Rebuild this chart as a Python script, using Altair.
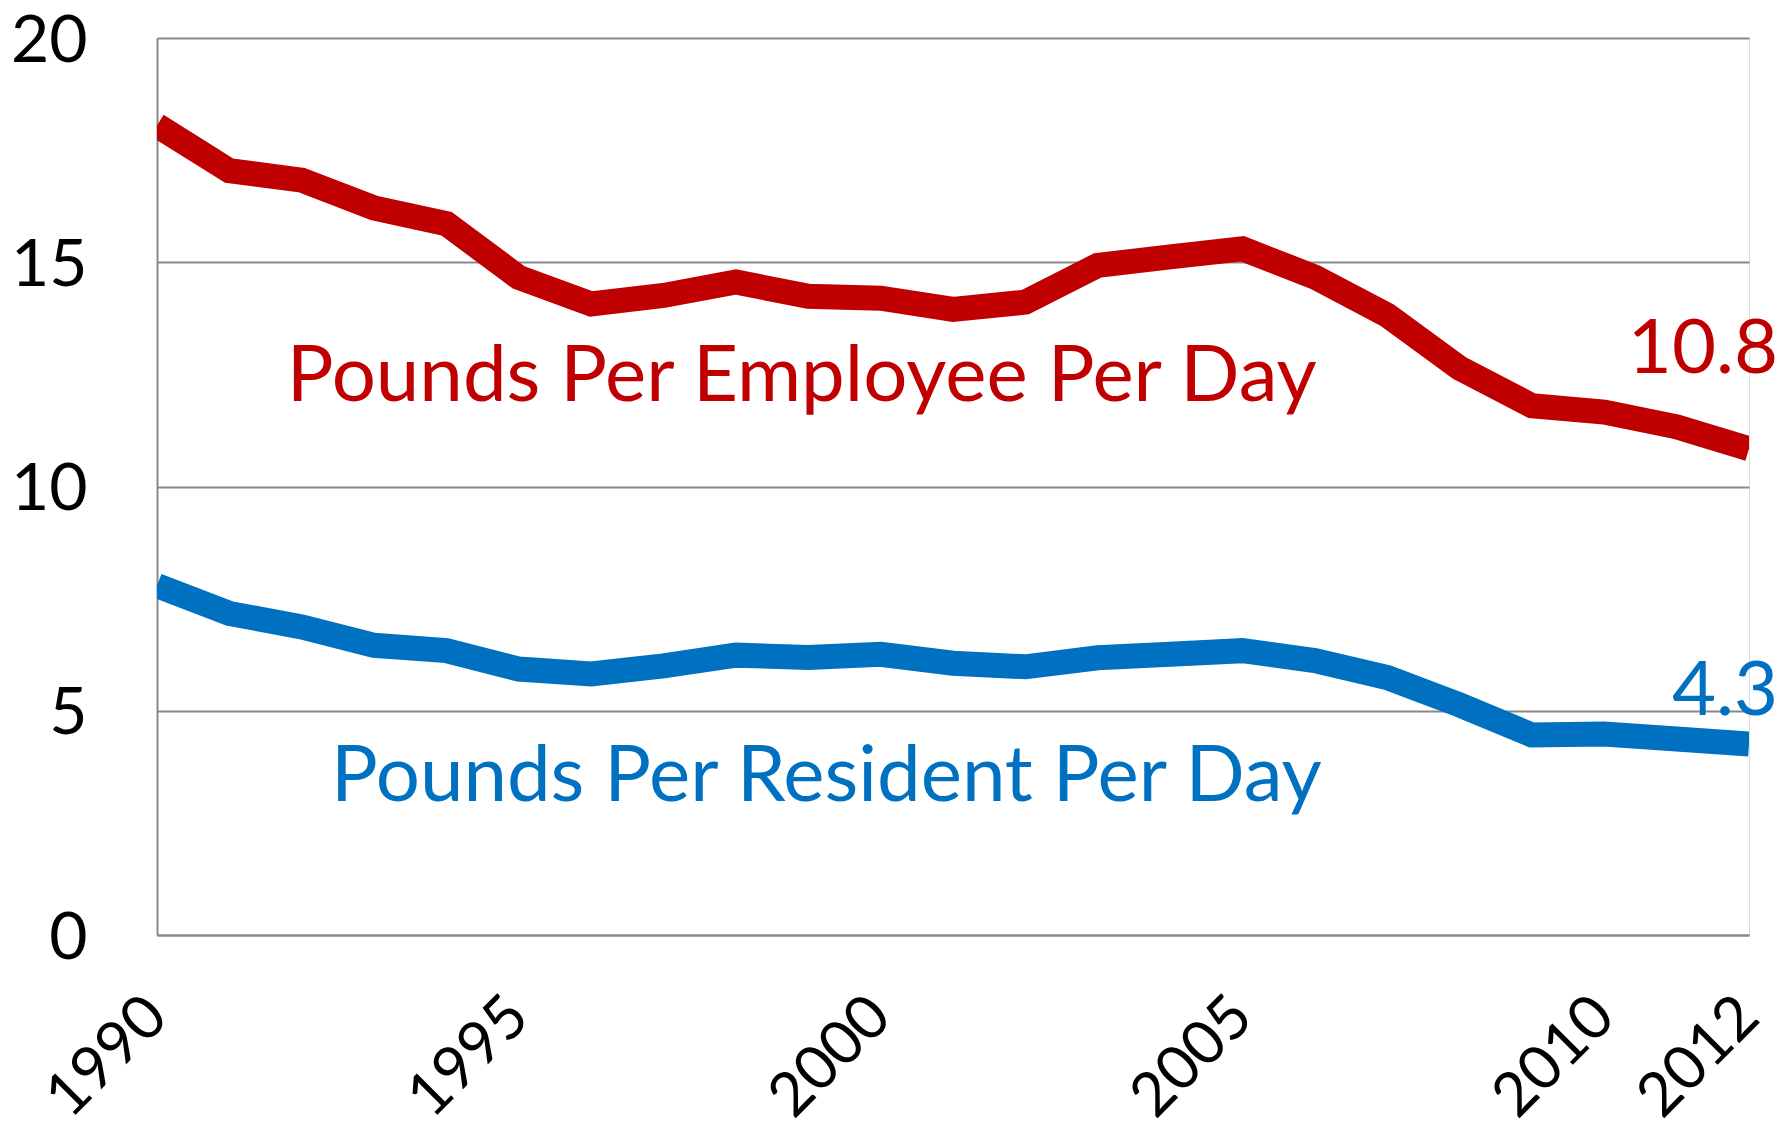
import altair as alt
import pandas as pd

years = list(range(1990, 2013))
employee = [18.05, 17.04, 16.83, 16.21, 15.86, 14.66, 14.07, 14.26, 14.56, 14.24,
            14.20, 13.95, 14.11, 14.93, 15.12, 15.30, 14.67, 13.82, 12.64, 11.80,
            11.66, 11.33, 10.84]
resident = [7.79, 7.17, 6.87, 6.46, 6.34, 5.93, 5.82, 6.00, 6.24, 6.19,
            6.26, 6.06, 5.98, 6.18, 6.26, 6.34, 6.12, 5.74, 5.13, 4.46,
            4.48, 4.37, 4.26]
series_names = ["Pounds Per Employee Per Day", "Pounds Per Resident Per Day"]
series_colors = ["#C00000", "#0070C0"]
x_tick_values = [1990, 1995, 2000, 2005, 2010, 2012]
y_tick_values = [0, 5, 10, 15, 20]
end_labels = ["10.8", "4.3"]

FONT = "Lato"

df = pd.DataFrame({
    "year": years * 2,
    "value": employee + resident,
    "series": [series_names[0]] * len(years) + [series_names[1]] * len(years),
})

xscale = alt.Scale(domain=[1990, 2012], nice=False, zero=False)
yscale = alt.Scale(domain=[0, 20], nice=False)
cscale = alt.Scale(domain=series_names, range=series_colors)

lines = alt.Chart(df).mark_line(
    strokeWidth=25, clip=True, strokeCap="butt", strokeJoin="miter"
).encode(
    x=alt.X("year:Q", scale=xscale, axis=alt.Axis(
        values=x_tick_values, format="d", title=None, grid=False,
        labelAngle=-45, labelAlign="right", labelBaseline="middle",
        labelPadding=72, ticks=False, tickSize=0, labelFontSize=61,
        labelFont=FONT, labelColor="#000000", domainColor="#898989",
        domainWidth=2, labelOverlap=False, labelFlush=False)),
    y=alt.Y("value:Q", scale=yscale, axis=alt.Axis(
        values=y_tick_values, title=None, grid=True, gridColor="#898989",
        gridWidth=2, ticks=False, tickSize=0, labelPadding=70,
        labelFontSize=66, labelFont=FONT, labelColor="#000000",
        domainColor="#898989", domainWidth=2, labelOffset=3)),
    color=alt.Color("series:N", scale=cscale, legend=None),
)

# series name annotations (positioned in data units)
name_df = pd.DataFrame({
    "year": [1998.91, 1999.25],
    "value": [11.90, 2.99],
    "series": series_names,
    "text": series_names,
})
names = alt.Chart(name_df).mark_text(
    align="center", baseline="alphabetic", fontSize=78, font=FONT
).encode(
    x=alt.X("year:Q", scale=xscale),
    y=alt.Y("value:Q", scale=yscale),
    text="text:N",
    color=alt.Color("series:N", scale=cscale, legend=None),
)

end_df = pd.DataFrame({
    "year": [2012, 2012],
    "value": [12.52, 4.90],
    "series": series_names,
    "text": end_labels,
})
ends = alt.Chart(end_df).mark_text(
    align="right", baseline="alphabetic", fontSize=76, font=FONT, dx=29
).encode(
    x=alt.X("year:Q", scale=xscale),
    y=alt.Y("value:Q", scale=yscale),
    text="text:N",
    color=alt.Color("series:N", scale=cscale, legend=None),
)

chart = alt.layer(lines, names, ends).properties(
    width=1592, height=897,
    autosize=alt.AutoSizeParams(type="none"),
    padding={"left": 149, "top": 30, "right": 30, "bottom": 194},
).configure_view(stroke=None).configure(background="#ffffff")

chart.save("out.html", embed_options={"renderer": "svg", "actions": False})
